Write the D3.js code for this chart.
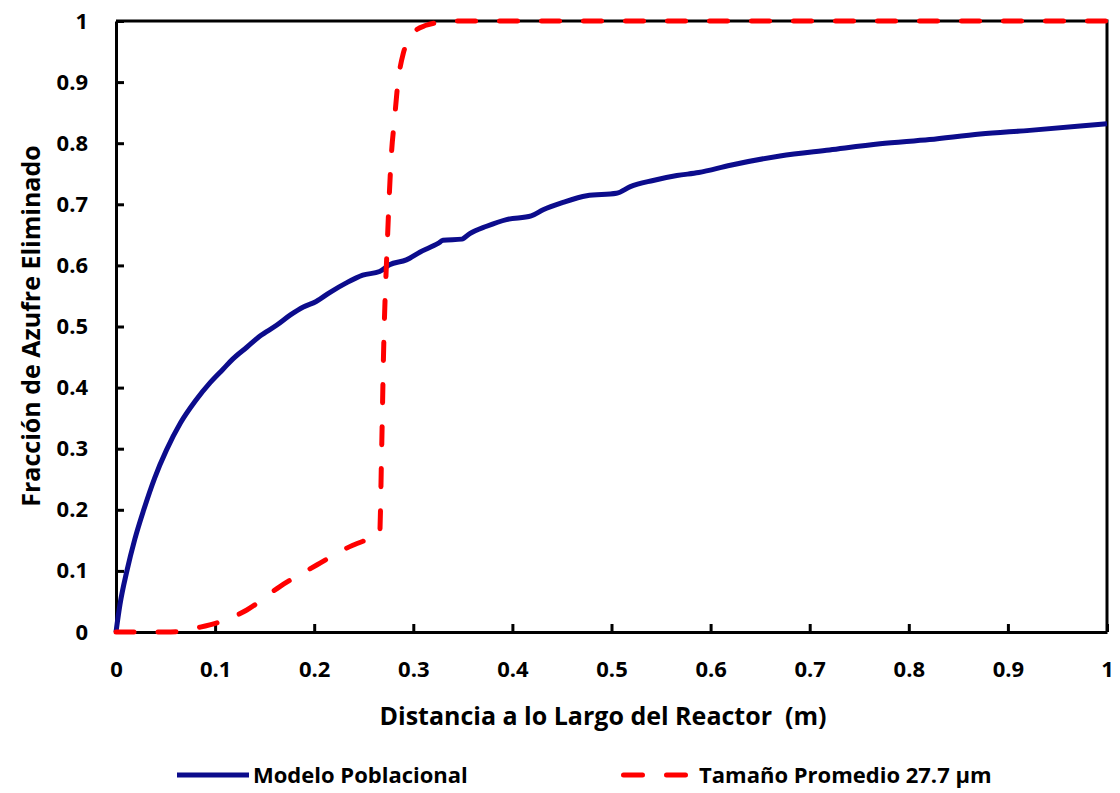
<!DOCTYPE html>
<html>
<head>
<meta charset="utf-8">
<script src="https://cdn.jsdelivr.net/npm/d3@7"></script>
<style>
  body { margin: 0; background: #fff; }
  text { font-family: "Open Sans", Lato, sans-serif; font-weight: bold; fill: #000; }
</style>
</head>
<body>
<div id="chart"></div>
<script>
// Modelo Poblacional
const modeloX = [0, 0.004, 0.011, 0.019, 0.028, 0.039, 0.051, 0.065, 0.08, 0.095, 0.108, 0.118, 0.132, 0.145, 0.162, 0.176, 0.189, 0.202, 0.216, 0.232, 0.249, 0.266, 0.276, 0.293, 0.307, 0.325, 0.33, 0.349, 0.357, 0.374, 0.394, 0.419, 0.431, 0.451, 0.475, 0.505, 0.519, 0.542, 0.566, 0.588, 0.62, 0.67, 0.72, 0.771, 0.821, 0.872, 0.922, 0.973, 1.0];
const modeloY = [0, 0.045, 0.1, 0.152, 0.2, 0.252, 0.298, 0.342, 0.378, 0.408, 0.43, 0.447, 0.466, 0.484, 0.502, 0.519, 0.532, 0.541, 0.556, 0.571, 0.584, 0.59, 0.601, 0.609, 0.622, 0.636, 0.641, 0.643, 0.652, 0.664, 0.675, 0.681, 0.691, 0.703, 0.714, 0.718, 0.729, 0.739, 0.747, 0.752, 0.764, 0.779, 0.789, 0.799, 0.806, 0.815, 0.821, 0.828, 0.832];

// Tamaño Promedio 27.7 µm
const promedioX = [0, 0.05, 0.065, 0.072, 0.085, 0.102, 0.132, 0.165, 0.203, 0.239, 0.255, 0.266, 0.268, 0.27, 0.274, 0.278, 0.281, 0.284, 0.29, 0.297, 0.303, 0.313, 0.323, 0.335, 1.0];
const promedioY = [0, 0, 0.001, 0.004, 0.008, 0.015, 0.036, 0.074, 0.11, 0.142, 0.152, 0.159, 0.293, 0.457, 0.646, 0.784, 0.838, 0.892, 0.948, 0.97, 0.985, 0.993, 0.997, 1, 1];

const xTicks = [0, 0.1, 0.2, 0.3, 0.4, 0.5, 0.6, 0.7, 0.8, 0.9, 1];
const yTicks = [0, 0.1, 0.2, 0.3, 0.4, 0.5, 0.6, 0.7, 0.8, 0.9, 1];

const seriesNames = ["Modelo Poblacional", "Tamaño Promedio 27.7 µm"];
const seriesColors = ["#0c0c8c", "#ff0000"];

const W = 1120, H = 793;
const margin = {top: 21, right: 13, bottom: 161, left: 116};
const width = W - margin.left - margin.right;
const height = H - margin.top - margin.bottom;

const svg = d3.select("#chart").append("svg")
    .attr("width", W)
    .attr("height", H);

const g = svg.append("g")
    .attr("transform", `translate(${margin.left},${margin.top})`);

const x = d3.scaleLinear().domain([0, 1]).range([0, width]);
const y = d3.scaleLinear().domain([0, 1]).range([height, 0]);
const fmt = d => d === 0 || d === 1 ? String(d) : d.toFixed(1);

// frame (top and right)
g.append("path")
    .attr("d", `M0,0H${width}V${height}`)
    .attr("fill", "none")
    .attr("stroke", "#000")
    .attr("stroke-width", 3);

// axes with inward ticks
const xAxis = g.append("g")
    .attr("transform", `translate(0,${height})`)
    .call(d3.axisBottom(x).tickValues(xTicks).tickFormat(fmt).tickSizeInner(-8).tickSizeOuter(0).tickPadding(29));
const yAxis = g.append("g")
    .call(d3.axisLeft(y).tickValues(yTicks).tickFormat(fmt).tickSizeInner(-8).tickSizeOuter(0).tickPadding(28));

[xAxis, yAxis].forEach(a => {
    a.select(".domain").attr("stroke", "#000").attr("stroke-width", 3);
    a.selectAll(".tick line").attr("stroke", "#000").attr("stroke-width", 3);
    a.selectAll("text").style("font-size", "22px").style("font-family", "'Open Sans', sans-serif").style("font-weight", "bold");
});

// lines
const line = d3.line()
    .x(d => x(d[0]))
    .y(d => y(d[1]))
    .curve(d3.curveMonotoneX);

const modelo = modeloX.map((v, i) => [v, modeloY[i]]);
const promedio = promedioX.map((v, i) => [v, promedioY[i]]);

g.append("path")
    .datum(modelo)
    .attr("d", line)
    .attr("fill", "none")
    .attr("stroke", seriesColors[0])
    .attr("stroke-width", 5)
    .attr("stroke-linejoin", "round");

g.append("path")
    .datum(promedio)
    .attr("d", line)
    .attr("fill", "none")
    .attr("stroke", seriesColors[1])
    .attr("stroke-width", 5)
    .attr("stroke-linecap", "round")
    .attr("stroke-dasharray", "18,24");

// axis titles
svg.append("text")
    .attr("x", 603)
    .attr("y", 725)
    .attr("text-anchor", "middle")
    .attr("xml:space", "preserve")
    .style("font-size", "25px")
    .text("Distancia a lo Largo del Reactor  (m)");

svg.append("text")
    .attr("transform", "translate(40,326) rotate(-90)")
    .attr("text-anchor", "middle")
    .style("font-size", "25px")
    .text("Fracción de Azufre Eliminado");

// legend
const legendItems = [
    {x1: 177, x2: 249, tx: 253},
    {x1: 623.5, x2: 685.5, tx: 699}
];
const ly = 775;
legendItems.forEach((it, i) => {
    const lg = svg.append("g");
    lg.append("line")
        .attr("x1", it.x1).attr("x2", it.x2)
        .attr("y1", ly).attr("y2", ly)
        .attr("stroke", seriesColors[i])
        .attr("stroke-width", 5)
        .attr("stroke-linecap", i === 1 ? "round" : "butt")
        .attr("stroke-dasharray", i === 1 ? "19,24" : null);
    lg.append("text")
        .attr("x", it.tx)
        .attr("y", ly + 8)
        .style("font-size", "22px")
        .text(seriesNames[i]);
});
</script>
</body>
</html>
